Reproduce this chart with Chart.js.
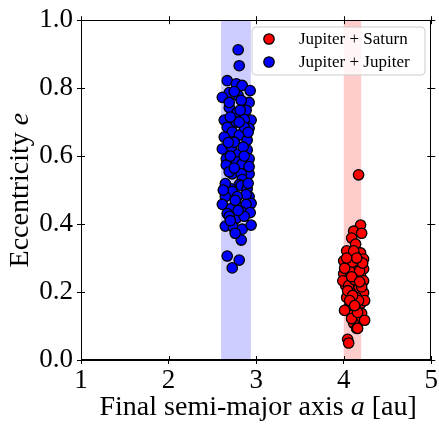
<!DOCTYPE html>
<html><head><meta charset="utf-8">
<script src="https://cdn.jsdelivr.net/npm/chart.js@4/dist/chart.umd.min.js"></script>
<style>html,body{margin:0;padding:0;background:#fff;}canvas{display:block;}</style>
</head><body>
<canvas id="c" width="439" height="425"></canvas>
<script>
// Jupiter + Saturn (red)
const jsA = [4.170,4.193,4.114,4.205,4.091,4.136,4.057,4.193,4.136,4.000,4.227,4.091,4.170,4.034,4.227,4.114,4.000,4.193,4.057,4.136,4.227,4.023,4.170,4.080,4.227,4.034,4.148,4.091,4.193,4.057,4.136,4.205,4.091,4.148,4.114,4.148,4.045,4.057,
  4.080,4.170,4.034,4.114,3.990,4.239,4.010,4.239,4.170,4.057,4.090,4.159,
  4.068,4.102,4.182,4.125,4.045,4.205,4.102,4.159,4.068,4.216,4.011,4.148,4.091,4.034,4.182,4.125];
const jsE = [0.545,0.397,0.379,0.373,0.359,0.341,0.312,0.315,0.306,0.292,0.297,0.283,0.277,0.271,0.268,0.254,0.254,0.248,0.239,0.224,0.233,0.219,0.210,0.198,0.198,0.184,0.184,0.169,0.166,0.155,0.152,0.137,0.131,0.122,0.108,0.093,0.061,0.050,
  0.300,0.292,0.321,0.321,0.233,0.175,0.146,0.117,0.175,0.219,0.122,0.093,
  0.262,0.288,0.262,0.236,0.204,0.215,0.190,0.140,0.175,0.285,0.270,0.300,0.245,0.300,0.230,0.160];
// Jupiter + Jupiter (blue)
const jjA = [2.795,2.807,2.670,2.773,2.841,2.932,2.693,2.614,2.795,2.920,2.830,2.693,2.886,2.784,2.943,2.636,2.773,2.864,2.670,2.920,2.727,2.807,2.898,2.614,2.716,2.795,2.898,2.920,2.659,2.773,2.659,2.841,2.727,2.920,2.830,2.841,2.807,2.716,2.830,2.898,2.727,2.648,2.920,2.886,2.614,2.773,2.943,2.886,2.716,2.670,2.830,2.932,2.773,2.648,2.739,2.841,2.943,2.830,2.670,2.807,2.727,
  2.693,2.864,2.750,2.636,2.852,2.693,2.784,2.693,2.864,2.761,2.807,2.648,2.920,
  2.750,2.705,2.818,2.909,2.682,2.864,2.750,2.705,2.909,2.761,2.625,2.795,2.705];
const jjE = [0.913,0.866,0.822,0.813,0.808,0.793,0.787,0.773,0.778,0.758,0.764,0.743,0.735,0.729,0.706,0.706,0.700,0.708,0.685,0.682,0.671,0.662,0.647,0.621,0.627,0.606,0.618,0.592,0.592,0.583,0.574,0.577,0.548,0.548,0.548,0.531,0.516,0.504,0.513,0.504,0.496,0.481,0.481,0.487,0.458,0.455,0.461,0.458,0.446,0.431,0.437,0.434,0.417,0.394,0.391,0.385,0.397,0.353,0.306,0.294,0.271,
  0.758,0.685,0.641,0.656,0.627,0.554,0.481,0.423,0.423,0.373,0.700,0.519,0.569,
  0.790,0.715,0.735,0.670,0.640,0.600,0.565,0.600,0.520,0.470,0.500,0.440,0.410];
// shaded bands [from, to] in a
const bandBlue = [2.60, 2.94];
const bandRed = [4.00, 4.20];
const xTicks = [1,2,3,4,5];
const yTicks = [0.0,0.2,0.4,0.6,0.8,1.0];
const seriesNames = ['Jupiter + Saturn','Jupiter + Jupiter'];

const SERIF = '"Liberation Serif", "Times New Roman", serif';
Chart.defaults.color = '#000';

function pts(a, e){ return a.map((v,i)=>({x:v, y:e[i]})); }

const deco = {
  id:'deco',
  beforeDatasetsDraw(chart){
    const {ctx, chartArea:ca, scales:{x}} = chart;
    ctx.save();
    ctx.fillStyle = 'rgba(0,0,255,0.2)';
    let x0 = x.getPixelForValue(bandBlue[0]), x1 = x.getPixelForValue(bandBlue[1]);
    ctx.fillRect(x0, ca.top, x1-x0, ca.bottom-ca.top);
    ctx.fillStyle = 'rgba(255,0,0,0.2)';
    x0 = x.getPixelForValue(bandRed[0]); x1 = x.getPixelForValue(bandRed[1]);
    ctx.fillRect(x0, ca.top, x1-x0, ca.bottom-ca.top);
    ctx.restore();
  },
  afterDatasetsDraw(chart){
    const {ctx, chartArea:ca, scales:{x,y}} = chart;
    ctx.save();
    ctx.strokeStyle = '#000'; ctx.lineWidth = 1;
    ctx.strokeRect(Math.round(ca.left)+0.5, Math.round(ca.top)+0.5, Math.round(ca.right-ca.left)-1, Math.round(ca.bottom-ca.top)-1);
    ctx.beginPath();
    const L = 4;
    xTicks.forEach(v=>{
      const px = Math.round(x.getPixelForValue(v))+0.5;
      ctx.moveTo(px, ca.bottom); ctx.lineTo(px, ca.bottom-L);
      ctx.moveTo(px, ca.top-L); ctx.lineTo(px, ca.top+L);
    });
    yTicks.forEach(v=>{
      const py = Math.round(y.getPixelForValue(v))+0.5;
      ctx.moveTo(ca.left, py); ctx.lineTo(ca.left+L, py);
      ctx.moveTo(ca.right-L, py); ctx.lineTo(ca.right+L, py);
    });
    ctx.stroke();
    ctx.restore();
  },
  afterDraw(chart){
    const {ctx, chartArea:ca} = chart;
    ctx.save();
    function drawMixed(segs, size, cx, baseY){
      let w = 0;
      segs.forEach(s=>{ ctx.font = (s[1]?'italic ':'')+size+'px '+SERIF; s.w = ctx.measureText(s[0]).width; w += s.w; });
      let xx = cx - w/2;
      ctx.textBaseline = 'alphabetic'; ctx.textAlign = 'left'; ctx.fillStyle = '#000';
      segs.forEach(s=>{ ctx.font = (s[1]?'italic ':'')+size+'px '+SERIF; ctx.fillText(s[0], xx, baseY); xx += s.w; });
    }
    // x title
    drawMixed([['Final semi-major axis ',false],['a',true],[' [au]',false]], 28, (ca.left+ca.right)/2+2, 415);
    // y title
    ctx.save();
    ctx.translate(28, (ca.top+ca.bottom)/2);
    ctx.rotate(-Math.PI/2);
    drawMixed([['Eccentricity ',false],['e',true]], 28, 0, 0);
    ctx.restore();
    // legend
    const lx = 252, ly = 27, lw = 173, lh = 48, r = 4;
    ctx.beginPath();
    ctx.moveTo(lx+r, ly); ctx.lineTo(lx+lw-r, ly); ctx.quadraticCurveTo(lx+lw, ly, lx+lw, ly+r);
    ctx.lineTo(lx+lw, ly+lh-r); ctx.quadraticCurveTo(lx+lw, ly+lh, lx+lw-r, ly+lh);
    ctx.lineTo(lx+r, ly+lh); ctx.quadraticCurveTo(lx, ly+lh, lx, ly+lh-r);
    ctx.lineTo(lx, ly+r); ctx.quadraticCurveTo(lx, ly, lx+r, ly);
    ctx.closePath();
    ctx.fillStyle = 'rgba(255,255,255,0.8)'; ctx.fill();
    ctx.strokeStyle = '#cccccc'; ctx.lineWidth = 1; ctx.stroke();
    const items = chart.data.datasets;
    items.forEach((ds,i)=>{
      const cy = 39 + i*23;
      ctx.beginPath(); ctx.arc(269, cy, 5.2, 0, Math.PI*2);
      ctx.fillStyle = ds.backgroundColor; ctx.fill();
      ctx.strokeStyle = '#000'; ctx.lineWidth = 1.3; ctx.stroke();
      ctx.fillStyle = '#000'; ctx.font = '17px '+SERIF; ctx.textBaseline = 'middle'; ctx.textAlign = 'left';
      ctx.fillText(ds.label, 299, cy+1);
    });
    ctx.restore();
  }
};

new Chart(document.getElementById('c'), {
  type:'scatter',
  data:{ datasets:[
    {label:seriesNames[0], data:pts(jsA, jsE), backgroundColor:'#ff0000', borderColor:'#000', borderWidth:1.3, pointRadius:5.2, pointHoverRadius:5.2},
    {label:seriesNames[1], data:pts(jjA, jjE), backgroundColor:'#0000ff', borderColor:'#000', borderWidth:1.3, pointRadius:5.2, pointHoverRadius:5.2}
  ]},
  options:{
    responsive:false, animation:false, devicePixelRatio:1,
    layout:{padding:{left:0, right:7, top:17, bottom:0}},
    plugins:{legend:{display:false}, tooltip:{enabled:false}},
    scales:{
      x:{type:'linear', min:1, max:5,
         ticks:{stepSize:1, font:{family:SERIF, size:27}, padding:1, maxRotation:0, callback:v=>String(v)},
         grid:{display:true, drawOnChartArea:false, drawTicks:true, tickLength:4, color:'#000'},
         border:{display:true, color:'#000', width:1},
         afterFit(s){ s.height = 65; }},
      y:{type:'linear', min:0, max:1,
         ticks:{stepSize:0.2, font:{family:SERIF, size:27}, padding:4, callback:v=>Number(v).toFixed(1)},
         grid:{display:true, drawOnChartArea:false, drawTicks:true, tickLength:4, color:'#000'},
         border:{display:true, color:'#000', width:1},
         afterFit(s){ s.width = 81; }}
    }
  },
  plugins:[deco]
});
</script>
</body></html>
